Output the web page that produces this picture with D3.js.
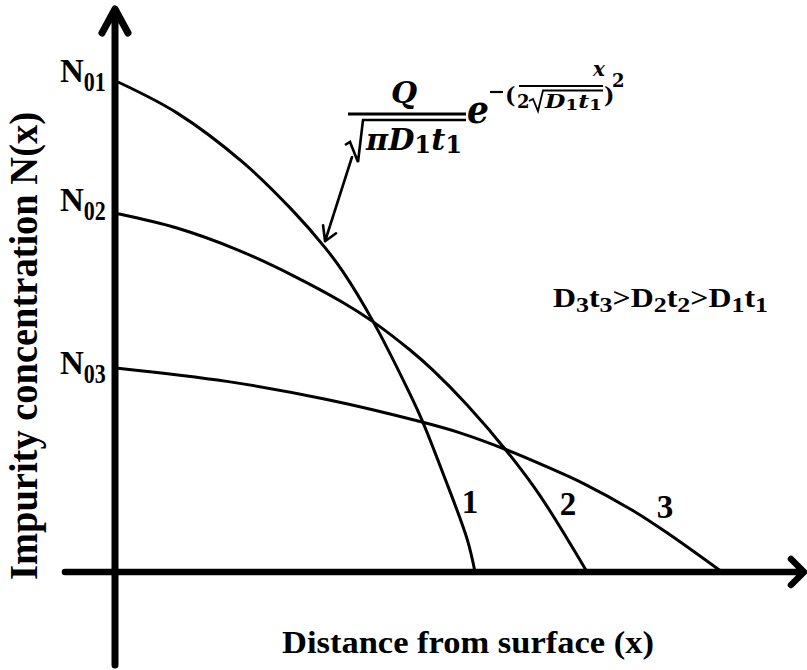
<!DOCTYPE html>
<html>
<head>
<meta charset="utf-8">
<script src="https://cdn.jsdelivr.net/npm/d3@7"></script>
<style>
  body { margin: 0; background: #fff; }
  text { fill: #000; }
</style>
</head>
<body>
<svg id="chart" width="807" height="670"></svg>
<script>
// Depth (x) and relative concentration N(x)/N01 along each diffusion profile
const depth1 = [0, 0.165, 0.350, 0.490, 0.580, 0.630, 0.714, 0.818, 0.852, 0.910, 0.978, 1.000];
const conc1  = [1.000, 0.937, 0.836, 0.737, 0.662, 0.613, 0.512, 0.363, 0.309, 0.202, 0.067, 0];

const depth2 = [0, 0.165, 0.333, 0.490, 0.630, 0.714, 0.818, 0.882, 0.978, 1.092, 1.182, 1.314];
const conc2  = [0.731, 0.702, 0.658, 0.605, 0.550, 0.511, 0.453, 0.412, 0.341, 0.244, 0.156, 0];

const depth3 = [0, 0.305, 0.585, 0.846, 0.958, 1.090, 1.210, 1.303, 1.443, 1.538, 1.692];
const conc3  = [0.416, 0.389, 0.352, 0.307, 0.284, 0.249, 0.212, 0.181, 0.125, 0.080, 0];

const curveNames = ["1", "2", "3"];
const surfaceSubs = ["01", "02", "03"];   // N0 subscripts on the vertical axis

const profiles = [
  { name: curveNames[0], sub: surfaceSubs[0], pts: depth1.map((d, i) => [d, conc1[i]]) },
  { name: curveNames[1], sub: surfaceSubs[1], pts: depth2.map((d, i) => [d, conc2[i]]) },
  { name: curveNames[2], sub: surfaceSubs[2], pts: depth3.map((d, i) => [d, conc3[i]]) }
];

const svg = d3.select("#chart");
const x = d3.scaleLinear().domain([0, 1]).range([118, 475]);
const y = d3.scaleLinear().domain([0, 1]).range([572, 82]);

const serif = "'Liberation Serif', 'Times New Roman', serif";
const mathFont = "'DejaVu Serif', serif";

// ---- axes drawn as heavy arrows ----
const ax = x(0) - 3, ay = y(0);
const axes = svg.append("g")
  .attr("fill", "none").attr("stroke", "#000")
  .attr("stroke-linecap", "round").attr("stroke-linejoin", "round");
axes.append("path").attr("stroke-width", 7)
  .attr("d", `M${ax},665 V10 M${ax - 13},33 L${ax},9 L${ax + 13},33`);
axes.append("path").attr("stroke-width", 6.5)
  .attr("d", `M65,${ay} H803 M791,${ay - 13} L804,${ay} L791,${ay + 13}`);

// ---- diffusion profiles ----
const line = d3.line().x(d => x(d[0])).y(d => y(d[1])).curve(d3.curveCatmullRom.alpha(0.5));
svg.append("g").selectAll("path").data(profiles).join("path")
  .attr("d", d => line(d.pts))
  .attr("fill", "none").attr("stroke", "#000").attr("stroke-width", 3);

// ---- N0 labels at each surface concentration ----
const nLabelBase = [0, -3, 6];
profiles.forEach((p, i) => {
  const t = svg.append("text").attr("x", 60).attr("y", y(p.pts[0][1]) + nLabelBase[i])
    .attr("font-family", serif).attr("font-weight", "bold");
  t.append("tspan").attr("font-size", 33).text("N");
  t.append("tspan").attr("font-size", 27).attr("dy", 9)
    .attr("textLength", 22).attr("lengthAdjust", "spacingAndGlyphs").text(p.sub);
});

// ---- curve numbers ----
const numberPos = [[470, 513], [568, 515], [665, 518]];
profiles.forEach((p, i) => {
  svg.append("text").attr("x", numberPos[i][0]).attr("y", numberPos[i][1])
    .attr("text-anchor", "middle").attr("font-family", serif)
    .attr("font-weight", "bold").attr("font-size", 33).text(p.name);
});

// ---- ordering of diffusion lengths ----
const order = [["D", "3"], ["t", "3"], [">", null], ["D", "2"], ["t", "2"], [">", null], ["D", "1"], ["t", "1"]];
const ord = svg.append("text").attr("x", 553).attr("y", 307)
  .attr("font-family", serif).attr("font-weight", "bold")
  .attr("textLength", 215).attr("lengthAdjust", "spacingAndGlyphs");
let shifted = false;
order.forEach(([m, s]) => {
  ord.append("tspan").attr("font-size", 27).attr("dy", shifted ? -5 : 0).text(m);
  shifted = false;
  if (s) { ord.append("tspan").attr("font-size", 22).attr("dy", 5).text(s); shifted = true; }
});

// ---- Gaussian expression ----
const eq = svg.append("g");
function mtext(px, py, size, str, italic, anchor) {
  return eq.append("text").attr("x", px).attr("y", py)
    .attr("font-family", mathFont).attr("font-weight", "bold")
    .attr("font-style", italic ? "italic" : "normal")
    .attr("font-size", size).attr("text-anchor", anchor || "start").text(str);
}
mtext(404, 103, 30, "Q", true, "middle");
eq.append("line").attr("x1", 348).attr("x2", 466).attr("y1", 114).attr("y2", 114)
  .attr("stroke", "#000").attr("stroke-width", 3);
eq.append("path").attr("fill", "none").attr("stroke", "#000").attr("stroke-width", 2.6)
  .attr("stroke-linejoin", "miter")
  .attr("d", "M345,145 L350,142 L358,162 L363,120 H466");
const den = eq.append("text").attr("x", 366).attr("y", 150)
  .attr("font-family", mathFont).attr("font-weight", "bold")
  .attr("textLength", 96).attr("lengthAdjust", "spacingAndGlyphs");
den.append("tspan").attr("font-size", 30).attr("font-style", "italic").text("πD");
den.append("tspan").attr("font-size", 24).attr("dy", 3).text("1");
den.append("tspan").attr("font-size", 30).attr("font-style", "italic").attr("dy", -3).text("t");
den.append("tspan").attr("font-size", 24).attr("dy", 3).text("1");

mtext(467, 123, 40, "e", true).attr("textLength", 22).attr("lengthAdjust", "spacingAndGlyphs");
eq.append("line").attr("x1", 490).attr("x2", 503).attr("y1", 92).attr("y2", 92)
  .attr("stroke", "#000").attr("stroke-width", 2.2);
mtext(505, 103, 22, "(", false);
eq.append("line").attr("x1", 519).attr("x2", 603).attr("y1", 86).attr("y2", 86)
  .attr("stroke", "#000").attr("stroke-width", 2);
mtext(599, 76, 20, "x", true, "middle");
mtext(517, 108, 18, "2", false);
eq.append("path").attr("fill", "none").attr("stroke", "#000").attr("stroke-width", 1.8)
  .attr("d", "M529,101 L533,99 L538,111 L543,90.5 H603");
const den2 = eq.append("text").attr("x", 545).attr("y", 108)
  .attr("font-family", mathFont).attr("font-weight", "bold")
  .attr("textLength", 57).attr("lengthAdjust", "spacingAndGlyphs");
den2.append("tspan").attr("font-size", 19).attr("font-style", "italic").text("D");
den2.append("tspan").attr("font-size", 15).attr("dy", 2).text("1");
den2.append("tspan").attr("font-size", 19).attr("font-style", "italic").attr("dy", -2).text("t");
den2.append("tspan").attr("font-size", 15).attr("dy", 2).text("1");
mtext(604, 103, 22, ")", false);
mtext(612, 87, 18, "2", false);

// pointer from the expression to profile 1
const tip = [x(0.580), y(0.675)];
svg.append("path").attr("fill", "none").attr("stroke", "#000").attr("stroke-width", 2.6)
  .attr("stroke-linecap", "round").attr("stroke-linejoin", "round")
  .attr("d", `M352,157 L${tip[0]},${tip[1]} M${tip[0] - 2},${tip[1] - 16} L${tip[0]},${tip[1]} L${tip[0] + 11},${tip[1] - 8}`);

// ---- axis titles ----
svg.append("text").attr("x", 282).attr("y", 653)
  .attr("font-family", serif).attr("font-weight", "bold").attr("font-size", 32)
  .attr("textLength", 372).attr("lengthAdjust", "spacingAndGlyphs")
  .text("Distance from surface (x)");
svg.append("text").attr("transform", "translate(37,580) rotate(-90)")
  .attr("font-family", serif).attr("font-weight", "bold").attr("font-size", 39)
  .attr("textLength", 468).attr("lengthAdjust", "spacingAndGlyphs")
  .text("Impurity concentration N(x)");
</script>
</body>
</html>
